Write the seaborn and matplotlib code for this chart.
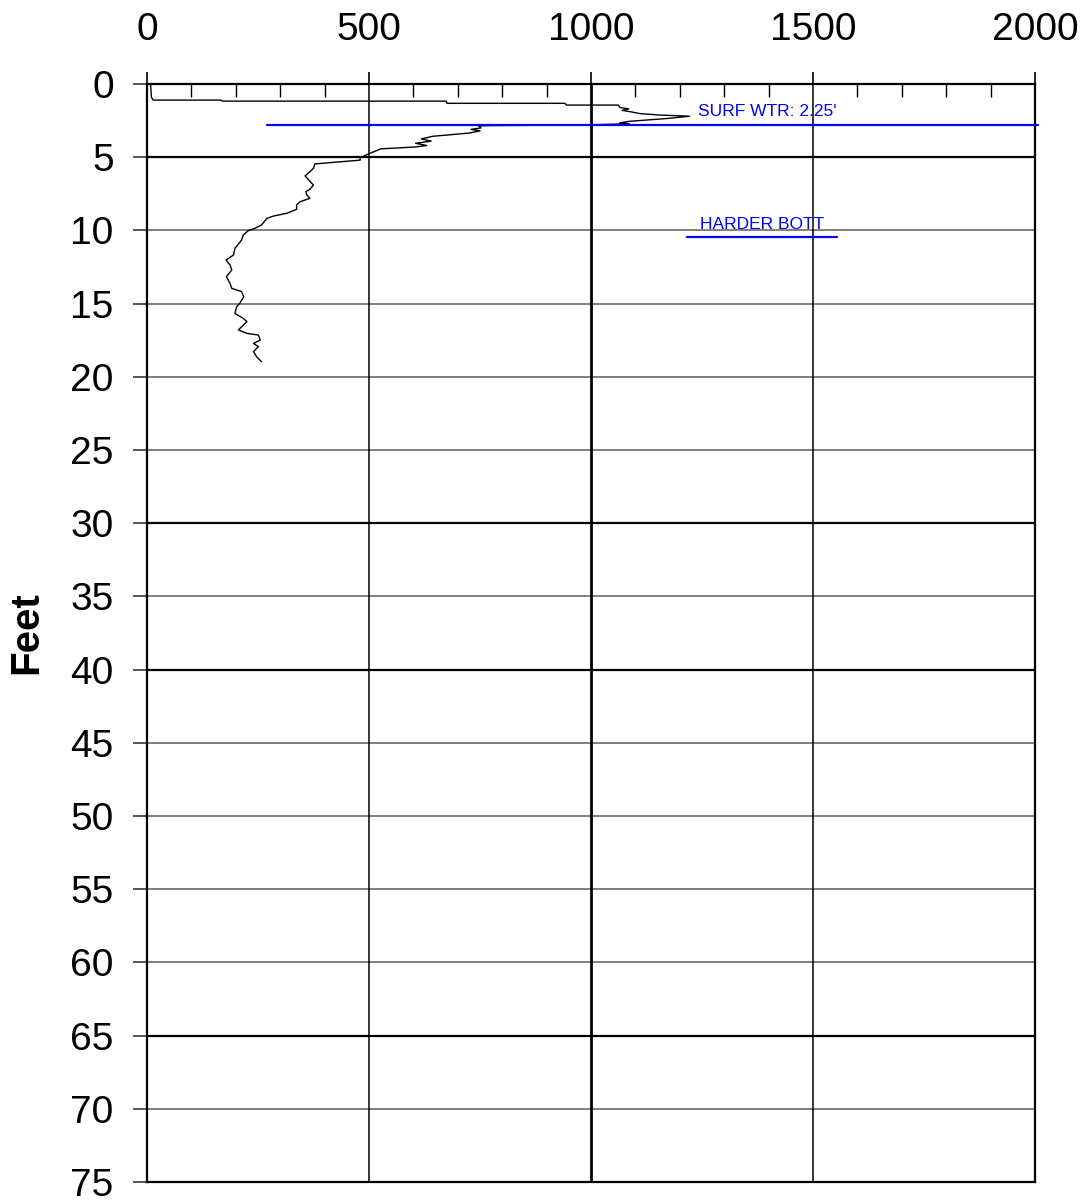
import matplotlib
matplotlib.use('Agg')
import matplotlib.pyplot as plt
import seaborn as sns
import pandas as pd
from matplotlib.ticker import MultipleLocator

# probe trace: value (top axis) and depth in feet
trace_value = [8, 10, 14, 166, 170, 674, 676, 941, 945, 1062, 1065, 1085, 1070, 1090,
               1110, 1154, 1222, 1174, 1086, 1065, 1086, 981, 773, 747, 752, 730, 750,
               726, 644, 618, 640, 605, 630, 605, 527, 497, 480, 480, 378,
               375, 363, 356, 363, 371, 375, 367, 358, 360, 367, 345, 337, 337, 315,
               285, 270, 258, 243, 228, 217, 213,
               198, 195, 178, 187, 191, 179, 187, 191, 213, 218, 209, 202, 198, 217,
               225, 206, 225, 251, 255, 240, 251, 240, 247, 258]
trace_depth = [0.0, 0.9, 1.1, 1.1, 1.17, 1.17, 1.32, 1.32, 1.44, 1.44, 1.6, 1.7, 1.8, 1.9,
               2.02, 2.12, 2.2, 2.35, 2.55, 2.65, 2.72, 2.8, 2.84, 2.86, 3.0, 3.1, 3.2,
               3.35, 3.57, 3.75, 3.9, 4.05, 4.2, 4.3, 4.43, 4.8, 5.05, 5.2, 5.46,
               5.76, 6.1, 6.28, 6.51, 6.78, 6.9, 7.19, 7.35, 7.58, 7.81, 8.04, 8.26, 8.56, 8.83,
               9.02, 9.18, 9.63, 9.86, 10.02, 10.31, 10.66,
               11.23, 11.68, 12.02, 12.36, 12.7, 13.16, 13.62, 13.96, 14.18, 14.53, 14.98, 15.21, 15.67, 16.01,
               16.23, 16.8, 17.03, 17.15, 17.49, 17.72, 17.94, 18.28, 18.63, 18.97]

# marker lines and their labels
surf_label = "SURF WTR: 2.25'"
surf_depth = 2.77
surf_span = [271, 2007]
surf_text_pos = [1241, 1.9]

bott_label = "HARDER BOTT"
bott_depth = 10.45
bott_span = [1216, 1554]
bott_text_pos = [1385, 9.6]

x_ticks = [0, 500, 1000, 1500, 2000]
y_ticks = list(range(0, 80, 5))
dark_rows = [5, 30, 40, 65]

df = pd.DataFrame({'value': trace_value, 'depth': trace_depth})

sns.set_style('white')
plt.rcParams['font.family'] = ['Liberation Sans', 'DejaVu Sans']
plt.rcParams['text.color'] = 'black'
plt.rcParams['xtick.labelcolor'] = 'black'
plt.rcParams['ytick.labelcolor'] = 'black'
plt.rcParams['axes.labelcolor'] = 'black'

fig = plt.figure(figsize=(10.83, 12), dpi=100)
ax = fig.add_axes([0.1357, 0.015, 0.82, 0.915])

# grid first so the trace sits on top
for y in y_ticks:
    if y in dark_rows:
        ax.axhline(y, color='black', lw=1.6, zorder=1)
    else:
        ax.axhline(y, color='#808080', lw=1.4, zorder=1)
for x in x_ticks[1:-1]:
    ax.axvline(x, color='black', lw=2.0 if x == 1000 else 1.1, zorder=1)

sns.lineplot(data=df, x='value', y='depth', sort=False, estimator=None,
             color='black', lw=1.0, ax=ax, zorder=3)

# blue marker lines
ax.plot(surf_span, [surf_depth, surf_depth], color='#0000ff', lw=1.6, clip_on=False, zorder=4)
ax.plot(bott_span, [bott_depth, bott_depth], color='#0000ff', lw=1.6, zorder=4)
ax.text(surf_text_pos[0], surf_text_pos[1], surf_label, color='#0000ff', fontsize=12.5,
        ha='left', va='center', zorder=5)
ax.text(bott_text_pos[0], bott_text_pos[1], bott_label, color='#0000ff', fontsize=12.5,
        ha='center', va='center', zorder=5)

ax.set_xlim(0, 2000)
ax.set_ylim(75, 0)
ax.xaxis.tick_top()
ax.set_xticks(x_ticks)
ax.xaxis.set_minor_locator(MultipleLocator(100))
ax.set_yticks(y_ticks)
ax.tick_params(axis='x', which='major', direction='out', length=9, width=1.2,
               top=True, bottom=False, labelsize=28, pad=17, color='black')
ax.tick_params(axis='x', which='minor', direction='in', length=9, width=1.0,
               top=True, bottom=False, color='black')
ax.tick_params(axis='y', which='major', direction='out', length=10, width=1.4,
               left=True, labelsize=28, pad=14, color='#555555')
ax.set_xlabel('')
ax.set_ylabel('Feet', fontsize=29, fontweight='bold', labelpad=18, color='black')

for side in ['left', 'right', 'top', 'bottom']:
    ax.spines[side].set_visible(True)
    ax.spines[side].set_color('black')
    ax.spines[side].set_linewidth(1.6)

fig.savefig('out.png', dpi=100)
